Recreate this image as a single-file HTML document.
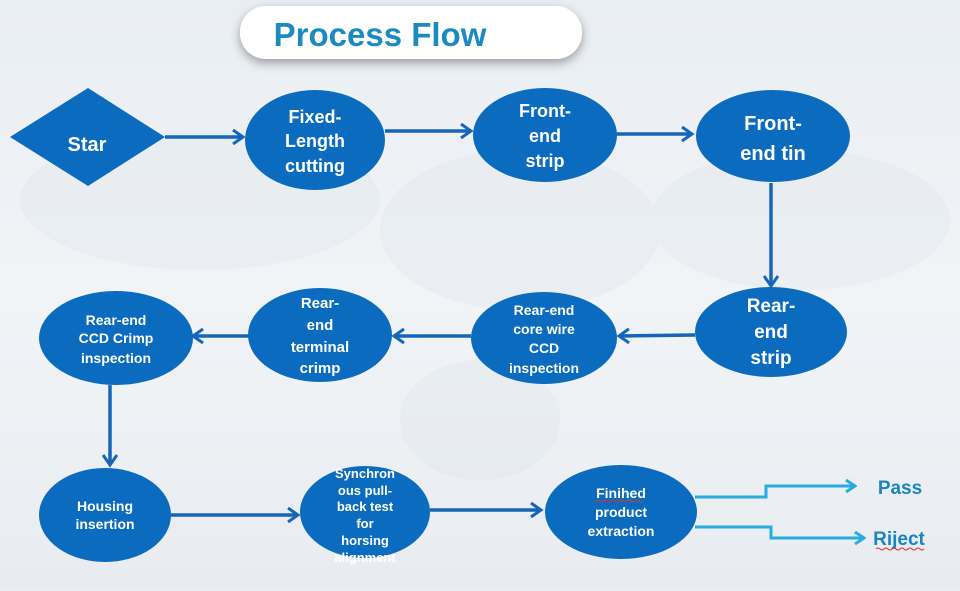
<!DOCTYPE html>
<html><head><meta charset="utf-8"><style>
html,body{margin:0;padding:0}
body{width:960px;height:586px;overflow:hidden;background:linear-gradient(180deg,#e9eef3 0%,#f1f4f7 50%,#e8ecf0 100%);font-family:"Liberation Sans",sans-serif}
svg text{font-family:"Liberation Sans",sans-serif;font-weight:bold;fill:#fff;text-anchor:middle}
</style></head><body>
<svg width="960" height="586" viewBox="0 0 960 586" xmlns="http://www.w3.org/2000/svg">
<defs>
<marker id="a" markerWidth="14" markerHeight="16" refX="11" refY="8" orient="auto" markerUnits="userSpaceOnUse">
<path d="M1,1 L11,8 L1,15" fill="none" stroke="#1565b8" stroke-width="3"/></marker>
<marker id="b" markerWidth="12" markerHeight="14" refX="10" refY="7" orient="auto" markerUnits="userSpaceOnUse">
<path d="M1,1 L10,7 L1,13" fill="none" stroke="#29abe2" stroke-width="3"/></marker>
<filter id="s" x="-20%" y="-40%" width="140%" height="200%"><feDropShadow dx="0" dy="4" stdDeviation="5" flood-color="#000" flood-opacity="0.35"/></filter>
</defs>
<g fill="#dfe5eb" opacity="0.35">
<ellipse cx="200" cy="200" rx="180" ry="70"/><ellipse cx="520" cy="230" rx="140" ry="80"/><ellipse cx="800" cy="220" rx="150" ry="70"/><ellipse cx="480" cy="420" rx="80" ry="60"/>
</g>
<rect x="240" y="6" width="342" height="53" rx="26" fill="#fff" filter="url(#s)"/>
<text x="380" y="46" style="fill:#1a8ac0;font-size:33px;">Process Flow</text>

<g stroke="#1565b8" stroke-width="3.5" fill="none" marker-end="url(#a)">
<line x1="165" y1="137" x2="243" y2="137"/>
<line x1="385" y1="131" x2="471" y2="131"/>
<line x1="617" y1="134" x2="692" y2="134"/>
<line x1="771" y1="183" x2="771" y2="286"/>
<line x1="695" y1="335" x2="619" y2="336"/>
<line x1="471" y1="336" x2="394" y2="336"/>
<line x1="249" y1="336" x2="193" y2="336"/>
<line x1="110" y1="385" x2="110" y2="465"/>
<line x1="171" y1="515" x2="298" y2="515"/>
<line x1="430" y1="510" x2="541" y2="510"/>
</g>
<g stroke="#29abe2" stroke-width="3" fill="none" marker-end="url(#b)">
<polyline points="695,497 766,497 766,486 855,486"/>
<polyline points="695,527 771,527 771,538 864,538"/>
</g>
<text x="900" y="494" style="fill:#1a86c0;font-size:19px">Pass</text>
<text x="899" y="545" style="fill:#1a86c0;font-size:19px">Riject</text>
<path d="M876,549 q2,-2 4,0 t4,0 t4,0 t4,0 t4,0 t4,0 t4,0 t4,0 t4,0 t4,0 t4,0 t4,0" stroke="#d33" stroke-width="1" fill="none"/>

<g fill="#0a6bbf">
<polygon points="10,137 88,88 165,137 88,186"/>
<ellipse cx="315" cy="140" rx="70" ry="50"/>
<ellipse cx="545" cy="135" rx="72" ry="47"/>
<ellipse cx="773" cy="136" rx="77" ry="46"/>
<ellipse cx="771" cy="332" rx="76" ry="45"/>
<ellipse cx="544" cy="338" rx="73" ry="46"/>
<ellipse cx="320" cy="335" rx="72" ry="47"/>
<ellipse cx="116" cy="338" rx="77" ry="47"/>
<ellipse cx="105" cy="515" rx="66" ry="47"/>
<ellipse cx="365" cy="512" rx="65" ry="46"/>
<ellipse cx="621" cy="512" rx="76" ry="47"/>
</g>
<g style="font-size:20px">
<text x="87" y="151">Star</text>
<text x="315" y="123" style="font-size:18px">Fixed-</text>
<text x="315" y="147" style="font-size:18px">Length</text>
<text x="315" y="172" style="font-size:18px">cutting</text>
<text x="545" y="117" style="font-size:18px">Front-</text>
<text x="545" y="142" style="font-size:18px">end</text>
<text x="545" y="167" style="font-size:18px">strip</text>
<text x="773" y="130">Front-</text>
<text x="773" y="160">end tin</text>
<text x="771" y="312" style="font-size:19px">Rear-</text>
<text x="771" y="338" style="font-size:19px">end</text>
<text x="771" y="364" style="font-size:19px">strip</text>
</g>
<g style="font-size:14px">
<text x="544" y="315">Rear-end</text>
<text x="544" y="334">core wire</text>
<text x="544" y="353">CCD</text>
<text x="544" y="373">inspection</text>
<text x="320" y="308" style="font-size:15px">Rear-</text>
<text x="320" y="330" style="font-size:15px">end</text>
<text x="320" y="352" style="font-size:15px">terminal</text>
<text x="320" y="373" style="font-size:15px">crimp</text>
<text x="116" y="325">Rear-end</text>
<text x="116" y="343">CCD Crimp</text>
<text x="116" y="363">inspection</text>
<text x="105" y="511">Housing</text>
<text x="105" y="529">insertion</text>
<text x="365" y="478" style="font-size:13px">Synchron</text>
<text x="365" y="495" style="font-size:13px">ous pull-</text>
<text x="365" y="511" style="font-size:13px">back test</text>
<text x="365" y="528" style="font-size:13px">for</text>
<text x="365" y="545" style="font-size:13px">horsing</text>
<text x="365" y="562" style="font-size:13px">alignment</text>
<text x="621" y="498">Finihed</text>
<text x="621" y="517">product</text>
<text x="621" y="536">extraction</text>
</g>
<path d="M595,501 q2,-2 4,0 t4,0 t4,0 t4,0 t4,0 t4,0 t4,0 t4,0 t4,0 t4,0 t4,0 t4,0" stroke="#d33" stroke-width="1" fill="none"/>
</svg>
</body></html>
